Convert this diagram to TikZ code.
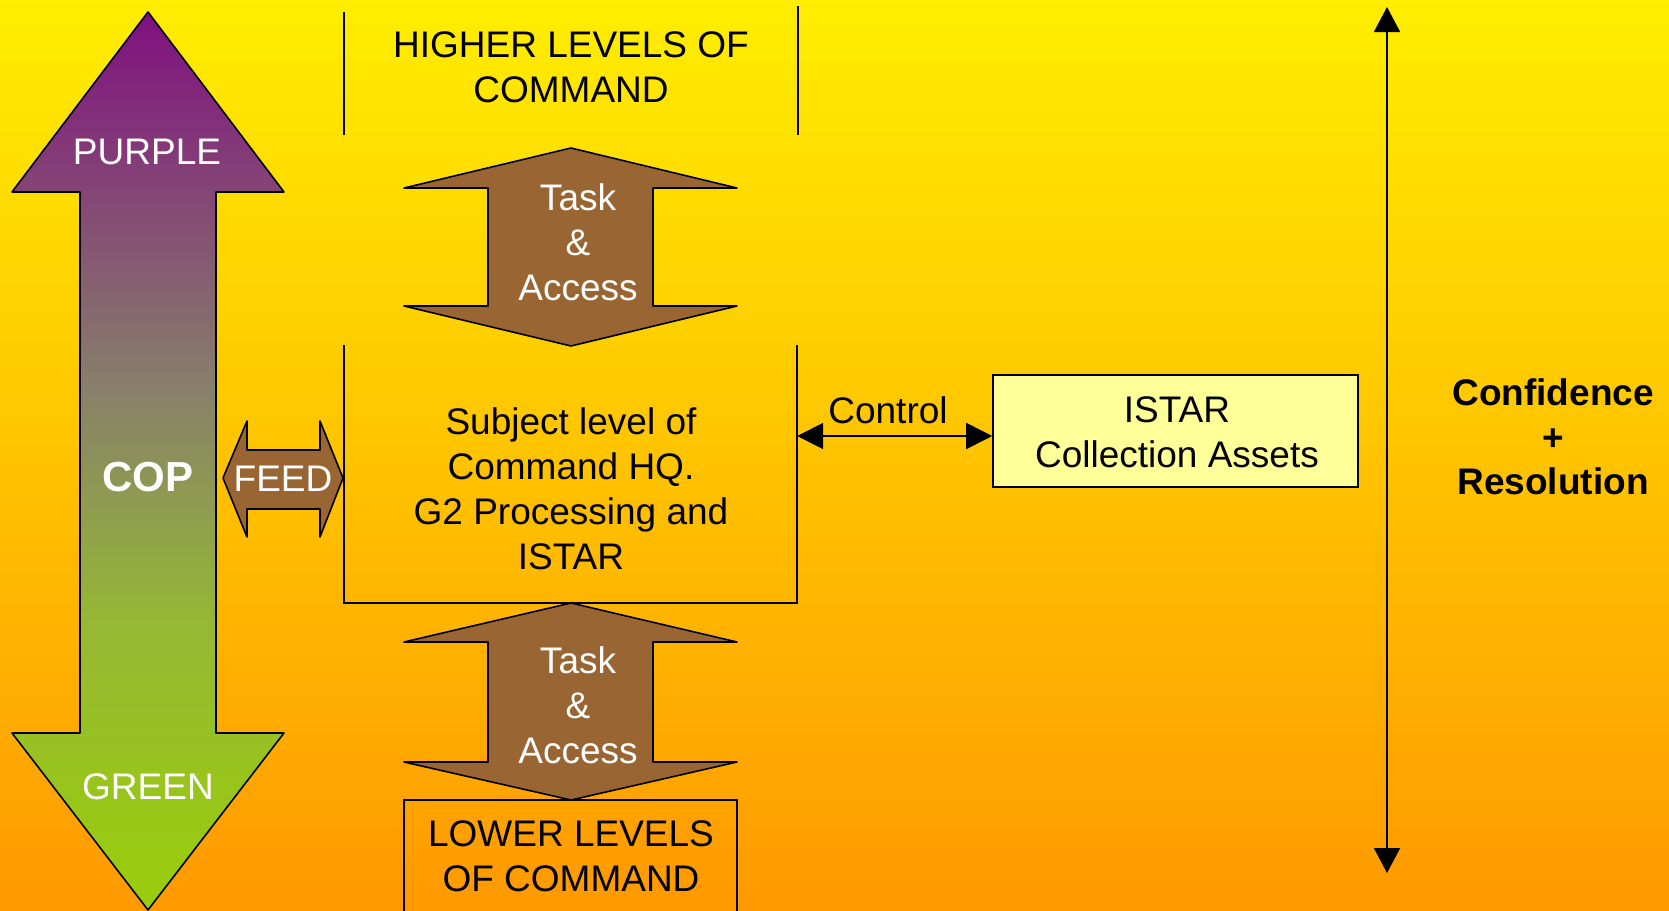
\documentclass[tikz,border=0pt]{standalone}
\usepackage{fontspec}
\setmainfont{Liberation Sans}
\usetikzlibrary{arrows.meta}
\definecolor{bgtop}{HTML}{FFEE00}
\definecolor{bgbot}{HTML}{FF9900}
\definecolor{ptop}{RGB}{128,16,128}
\definecolor{cgray}{RGB}{136,128,106}
\definecolor{cgreen}{RGB}{150,184,52}
\definecolor{pbot}{RGB}{153,206,10}
\definecolor{tanbrown}{HTML}{996633}
\definecolor{paleyel}{HTML}{FFFF99}
\pgfdeclareverticalshading{copshade}{100bp}{color(0bp)=(pbot); color(25bp)=(pbot);
  color(41bp)=(cgreen); color(54bp)=(cgray); color(75bp)=(ptop); color(100bp)=(ptop)}
\begin{document}
\begin{tikzpicture}[x=1pt,y=-1pt,
  lbl/.style={font=\fontsize{37}{45}\selectfont, align=center, inner sep=0pt},
  wlbl/.style={lbl, text=white},
  outline/.style={draw=black, line width=1.6pt, line join=round},
  thinline/.style={draw=black, line width=1.6pt},
  blockarrow/.style={outline, fill=tanbrown},
  dbl/.style={draw=black, line width=1.8pt, {Triangle[length=26pt,width=26pt]}-{Triangle[length=26pt,width=26pt]}}
]
% background
\shade[top color=bgtop, bottom color=bgbot] (0,0) rectangle (1669,910);
\useasboundingbox (0,0) rectangle (1669,910);

% big COP arrow
\shadedraw[outline, shading=copshade]
  (148,12) -- (284,192) -- (216,192) -- (216,733) -- (284,733) -- (148,910)
  -- (12,733) -- (80,733) -- (80,192) -- (12,192) -- cycle;
\node[wlbl] (purple) at (147,152) {PURPLE};
\node[wlbl, font=\bfseries\fontsize{42}{50}\selectfont] (cop) at (148,477) {COP};
\node[wlbl] (green) at (148,787) {GREEN};

% higher levels
\draw[thinline] (344,12) -- (344,135);
\draw[thinline] (798,6) -- (798,135);
\node[lbl] (higher) at (571,67) {HIGHER LEVELS OF\\COMMAND};

% task arrow 1
\draw[blockarrow] (571,148) -- (737,188) -- (653,188) -- (653,306) -- (737,306)
  -- (571,346) -- (404,306) -- (488,306) -- (488,188) -- (404,188) -- cycle;
\node[wlbl] (task1) at (578,242) {Task\\\&\\Access};

% middle box
\node[minimum width=453pt, minimum height=258pt, inner sep=0pt] (mid) at (570.5,474) {};
\draw[thinline] (mid.north west) -- (mid.south west) -- (mid.south east) -- (mid.north east);
\node[lbl] (midtxt) at (571,489) {Subject level of\\Command HQ.\\G2 Processing and\\ISTAR};

% task arrow 2
\draw[blockarrow] (571,603) -- (737,642) -- (653,642) -- (653,762) -- (737,762)
  -- (571,800) -- (404,762) -- (488,762) -- (488,642) -- (404,642) -- cycle;
\node[wlbl] (task2) at (578,705) {Task\\\&\\Access};

% lower levels
\draw[thinline] (404,920) -- (404,800) -- (737,800) -- (737,920);
\node[lbl] (lower) at (571,856) {LOWER LEVELS\\OF COMMAND};

% feed arrow
\draw[blockarrow] (223,478) -- (247,421) -- (247,450) -- (320,450) -- (320,421)
  -- (343,478) -- (320,537) -- (320,509) -- (247,509) -- (247,537) -- cycle;
\node[wlbl] (feed) at (283,479) {FEED};

% ISTAR box
\node[draw=black, line width=1.6pt, fill=paleyel, minimum width=365pt, minimum height=112pt,
  inner sep=0pt] (istar) at (1175.5,431) {};
\node[lbl] (istartxt) at (1177,432) {ISTAR\\Collection Assets};

% control connector
\coordinate (cy) at (0,436);
\draw[dbl] (mid.east |- cy) -- (istar.west |- cy);
\node[lbl] (control) at (888,410) {Control};

% confidence arrow
\coordinate (vt) at (1387,7);
\coordinate (vb) at (1387,873);
\draw[draw=black, line width=1.8pt, {Triangle[length=25pt,width=26pt]}-{Triangle[length=25pt,width=26pt]}] (vt) -- (vb);
\node[lbl, font=\bfseries\fontsize{37}{44.5}\selectfont] (conf) at (1553,437) {Confidence\\+\\Resolution};
\end{tikzpicture}
\end{document}
